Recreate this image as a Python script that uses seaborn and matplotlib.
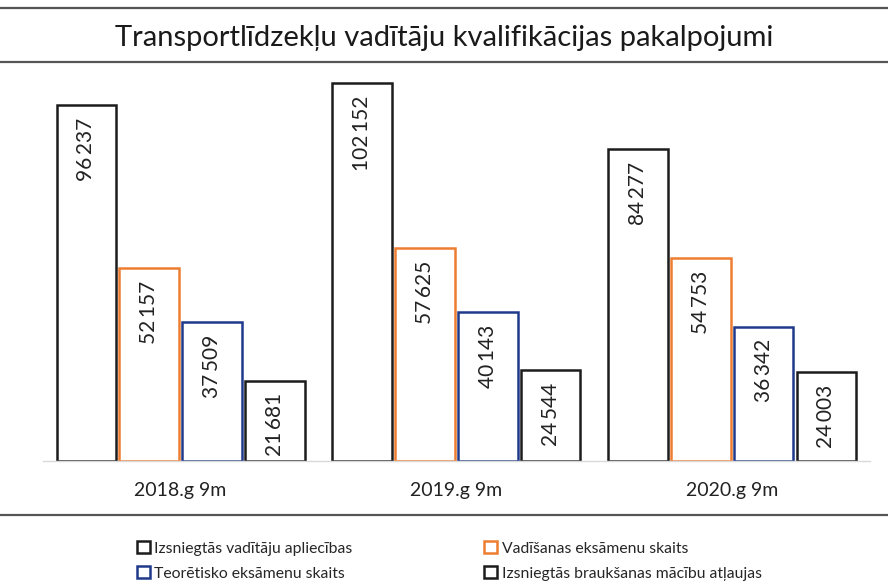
## Grouped bar chart: driver qualification services.
import pandas as pd
import matplotlib.pyplot as plt
import seaborn as sns
from matplotlib.lines import Line2D

periods = ['2018.g 9m', '2019.g 9m', '2020.g 9m']
series = ['Izsniegtās vadītāju apliecības', 'Vadīšanas eksāmenu skaits',
          'Teorētisko eksāmenu skaits', 'Izsniegtās braukšanas mācību atļaujas']
licences = [96237, 102152, 84277]
driving_exams = [52157, 57625, 54753]
theory_exams = [37509, 40143, 36342]
permits = [21681, 24544, 24003]
colors = ['#1c1c1c', '#ed7d31', '#1f3a8a', '#1c1c1c']

rows = []
for s, vals in zip(series, [licences, driving_exams, theory_exams, permits]):
    for p, v in zip(periods, vals):
        rows.append({'period': p, 'series': s, 'value': v})
df = pd.DataFrame(rows)

sns.set_theme(style='white')
plt.rcParams['font.family'] = ['Lato', 'DejaVu Sans']

fig = plt.figure(figsize=(8.88, 5.88), dpi=100)
ax = fig.add_axes([0.048, 0.216, 0.932, 0.665])

sns.barplot(data=df, x='period', y='value', hue='series', hue_order=series,
            palette=colors, fill=False, width=0.91, gap=0.05,
            linewidth=1.8, ax=ax, legend=True)

ax.set_ylim(0, 105700)
ax.set_xlim(-0.5, 2.5)
ax.set_xlabel('')
ax.set_ylabel('')
ax.set_yticks([])
for side in ['top', 'left', 'right']:
    ax.spines[side].set_visible(False)
ax.spines['bottom'].set_color('#d9d9d9')
ax.spines['bottom'].set_linewidth(1)
ax.tick_params(axis='x', length=0, pad=15, labelsize=14, colors='#222222')

# value labels inside bars, rotated
for cont in ax.containers:
    for bar in cont:
        h = bar.get_height()
        txt = f'{int(h):,}'.replace(',', '\u2009')
        ax.annotate(txt, (bar.get_x() + bar.get_width() / 2, h),
                    xytext=(0, -9), textcoords='offset points',
                    rotation=90, ha='center', va='top',
                    fontsize=15, color='#222222')

# legend, row-major order
handles, labels = ax.get_legend_handles_labels()
ax.get_legend().remove()
order = [0, 2, 1, 3]
fig.legend([handles[i] for i in order], [labels[i] for i in order],
           ncol=2, loc='center', bbox_to_anchor=(0.506, 0.046),
           frameon=False, fontsize=11.3, handlelength=0.8, handleheight=0.8,
           handletextpad=0.3, columnspacing=8.4, labelspacing=0.65)

fig.suptitle('Transportlīdzekļu vadītāju kvalifikācijas pakalpojumi',
             x=0.5, y=0.935, va='center', fontsize=21, color='#1a1a1a')

for y in [0.986, 0.895, 0.124]:
    fig.add_artist(Line2D([0, 1], [y, y], color='#555555', linewidth=1.6))

plt.savefig('out.png', dpi=100)
